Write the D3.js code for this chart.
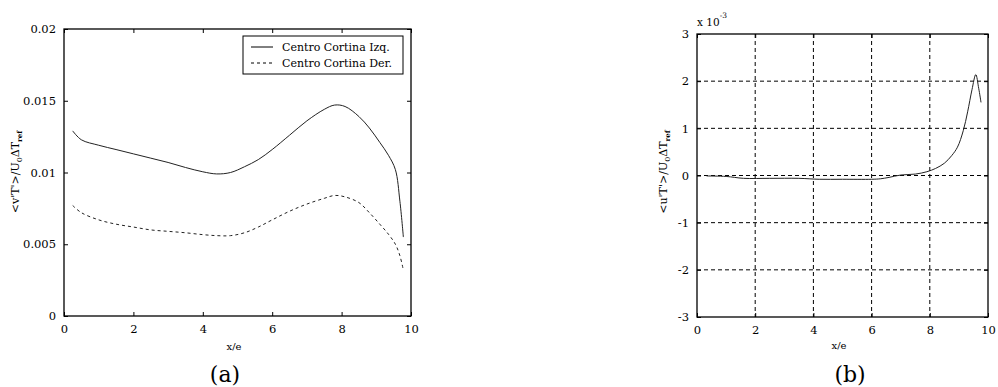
<!DOCTYPE html>
<html><head><meta charset="utf-8">
<script src="https://cdn.jsdelivr.net/npm/d3@7"></script>
<style>body{margin:0;background:#fff}svg{display:block}text{font-family:"DejaVu Serif",serif;fill:#000}</style>
</head><body><svg id="c" width="998" height="387"></svg>
<script>
// ---- data (a) ----
const xA = [0.25,0.5,1,1.5,2,2.5,3,3.5,4,4.4,4.8,5.2,5.6,6,6.5,7,7.5,7.8,8.1,8.5,8.8,9.1,9.35,9.55,9.68,9.78];
const izq = [0.0129,0.01228,0.0119,0.0116,0.0113,0.0110,0.0107,0.01035,0.01005,0.0099,0.0100,0.0104,0.0109,0.0116,0.0126,0.0136,0.0144,0.0147,0.0146,0.0139,0.0131,0.0121,0.0112,0.0102,0.0080,0.0055];
const der = [0.0077,0.0072,0.0067,0.0064,0.0062,0.0060,0.0059,0.0058,0.00567,0.0056,0.0056,0.0058,0.0062,0.0067,0.0073,0.0078,0.0082,0.0084,0.0083,0.0079,0.0072,0.0064,0.0057,0.0050,0.0042,0.0032];
const seriesA = ["Centro Cortina Izq.","Centro Cortina Der."];
const xTicks = [0,2,4,6,8,10];
const yTicksA = [0,0.005,0.01,0.015,0.02];
const yTickLabelsA = ["0","0.005","0.01","0.015","0.02"];
// ---- data (b) ----
const xB = [0.33,1,1.6,2.5,3.5,4.2,5,6,6.3,6.6,7,7.5,7.9,8.2,8.5,8.75,8.95,9.15,9.3,9.45,9.58,9.68,9.76];
const uT = [-0.01e-3,-0.02e-3,-0.06e-3,-0.06e-3,-0.06e-3,-0.08e-3,-0.08e-3,-0.08e-3,-0.07e-3,-0.04e-3,0.01e-3,0.03e-3,0.08e-3,0.15e-3,0.26e-3,0.42e-3,0.6e-3,0.95e-3,1.35e-3,1.82e-3,2.14e-3,1.85e-3,1.55e-3];
const yTicksB = [-3e-3,-2e-3,-1e-3,0,1e-3,2e-3,3e-3];
const yTickLabelsB = ["-3","-2","-1","0","1","2","3"];

const svg = d3.select("#c");
const axisColor = "#000";
const FONT = "DejaVu Serif";

function frame(g, x, y, W, H, xt, yt, ylab){
  g.append("g").attr("transform",`translate(0,${H})`)
    .call(d3.axisBottom(x).tickValues(xt).tickSize(-4).tickPadding(9).tickFormat(d3.format("d")))
    .call(s=>{s.select(".domain").remove();s.selectAll("text").attr("font-size",11.5).attr("font-family",FONT);});
  g.append("g").call(d3.axisTop(x).tickValues(xt).tickSize(-4).tickFormat(""))
    .call(s=>s.select(".domain").remove());
  g.append("g").call(d3.axisLeft(y).tickValues(yt).tickSize(-4).tickPadding(8).tickFormat((d,i)=>ylab[i]))
    .call(s=>{s.select(".domain").remove();s.selectAll("text").attr("font-size",11.5).attr("font-family",FONT);});
  g.append("g").attr("transform",`translate(${W},0)`).call(d3.axisRight(y).tickValues(yt).tickSize(-4).tickFormat(""))
    .call(s=>s.select(".domain").remove());
  g.selectAll(".tick line").attr("stroke",axisColor).attr("stroke-width",1);
  g.append("rect").attr("width",W).attr("height",H).attr("fill","none").attr("stroke",axisColor).attr("stroke-width",1.3);
}

function ylabel(g, cx, cy, v){
  const t = g.append("text").attr("transform",`translate(${cx},${cy}) rotate(-90)`).attr("text-anchor","middle").attr("font-size",11);
  t.append("tspan").text(`<${v}'T'>/U`);
  t.append("tspan").attr("font-size",8).attr("dy",3).text("0");
  t.append("tspan").attr("dy",-3).text("ΔT");
  t.append("tspan").attr("font-size",7).attr("font-weight","bold").attr("dy",3).text("ref");
}

// ---- chart (a) ----
{
  const L=64,T=29,W=347,H=287;
  const g = svg.append("g").attr("transform",`translate(${L},${T})`);
  const x = d3.scaleLinear().domain([0,10]).range([0,W]);
  const y = d3.scaleLinear().domain([0,0.02]).range([H,0]);
  frame(g,x,y,W,H,xTicks,yTicksA,yTickLabelsA);
  const line = d3.line().x(d=>x(d[0])).y(d=>y(d[1])).curve(d3.curveCatmullRom.alpha(0.5));
  g.append("path").datum(xA.map((v,i)=>[v,izq[i]])).attr("d",line).attr("fill","none").attr("stroke","#222").attr("stroke-width",1);
  g.append("path").datum(xA.map((v,i)=>[v,der[i]])).attr("d",line).attr("fill","none").attr("stroke","#222").attr("stroke-width",1).attr("stroke-dasharray","3,3");
  const lg = g.append("g").attr("transform",`translate(${243-L},${36-T})`);
  lg.append("rect").attr("width",160).attr("height",38).attr("fill","#fff").attr("stroke","#000").attr("stroke-width",1);
  seriesA.forEach((s,i)=>{
    const yy = 11+i*16;
    lg.append("line").attr("x1",8).attr("x2",30).attr("y1",yy).attr("y2",yy).attr("stroke","#000").attr("stroke-width",1).attr("stroke-dasharray",i?"3,3":null);
    lg.append("text").attr("x",39).attr("y",yy+4).attr("font-size",11).text(s);
  });
  svg.append("text").attr("x",234).attr("y",350).attr("text-anchor","middle").attr("font-size",10).text("x/e");
  svg.append("text").attr("x",225).attr("y",382).attr("text-anchor","middle").attr("font-size",22).attr("font-family","Liberation Serif").text("(a)");
  ylabel(svg,19,172,"v");
}

// ---- chart (b) ----
{
  const L=697,T=34,W=291,H=283;
  const g = svg.append("g").attr("transform",`translate(${L},${T})`);
  const x = d3.scaleLinear().domain([0,10]).range([0,W]);
  const y = d3.scaleLinear().domain([-3e-3,3e-3]).range([H,0]);
  g.append("g").selectAll("line").data(xTicks.slice(1,-1)).join("line")
    .attr("x1",d=>x(d)).attr("x2",d=>x(d)).attr("y1",0).attr("y2",H)
    .attr("stroke","#000").attr("stroke-width",1).attr("stroke-dasharray","4,3");
  g.append("g").selectAll("line").data(yTicksB.slice(1,-1)).join("line")
    .attr("y1",d=>y(d)).attr("y2",d=>y(d)).attr("x1",0).attr("x2",W)
    .attr("stroke","#000").attr("stroke-width",1).attr("stroke-dasharray","4,3");
  frame(g,x,y,W,H,xTicks,yTicksB,yTickLabelsB);
  const line = d3.line().x(d=>x(d[0])).y(d=>y(d[1])).curve(d3.curveCatmullRom.alpha(0.5));
  g.append("path").datum(xB.map((v,i)=>[v,uT[i]])).attr("d",line).attr("fill","none").attr("stroke","#222").attr("stroke-width",1);
  const e = svg.append("text").attr("x",697).attr("y",26).attr("font-size",10.5);
  e.append("tspan").text("x 10");
  e.append("tspan").attr("font-size",7.5).attr("dy",-8).text("-3");
  svg.append("text").attr("x",839).attr("y",349).attr("text-anchor","middle").attr("font-size",10).text("x/e");
  svg.append("text").attr("x",850).attr("y",382).attr("text-anchor","middle").attr("font-size",22).attr("font-family","Liberation Serif").text("(b)");
  ylabel(svg,667,172,"u");
}
</script></body></html>
